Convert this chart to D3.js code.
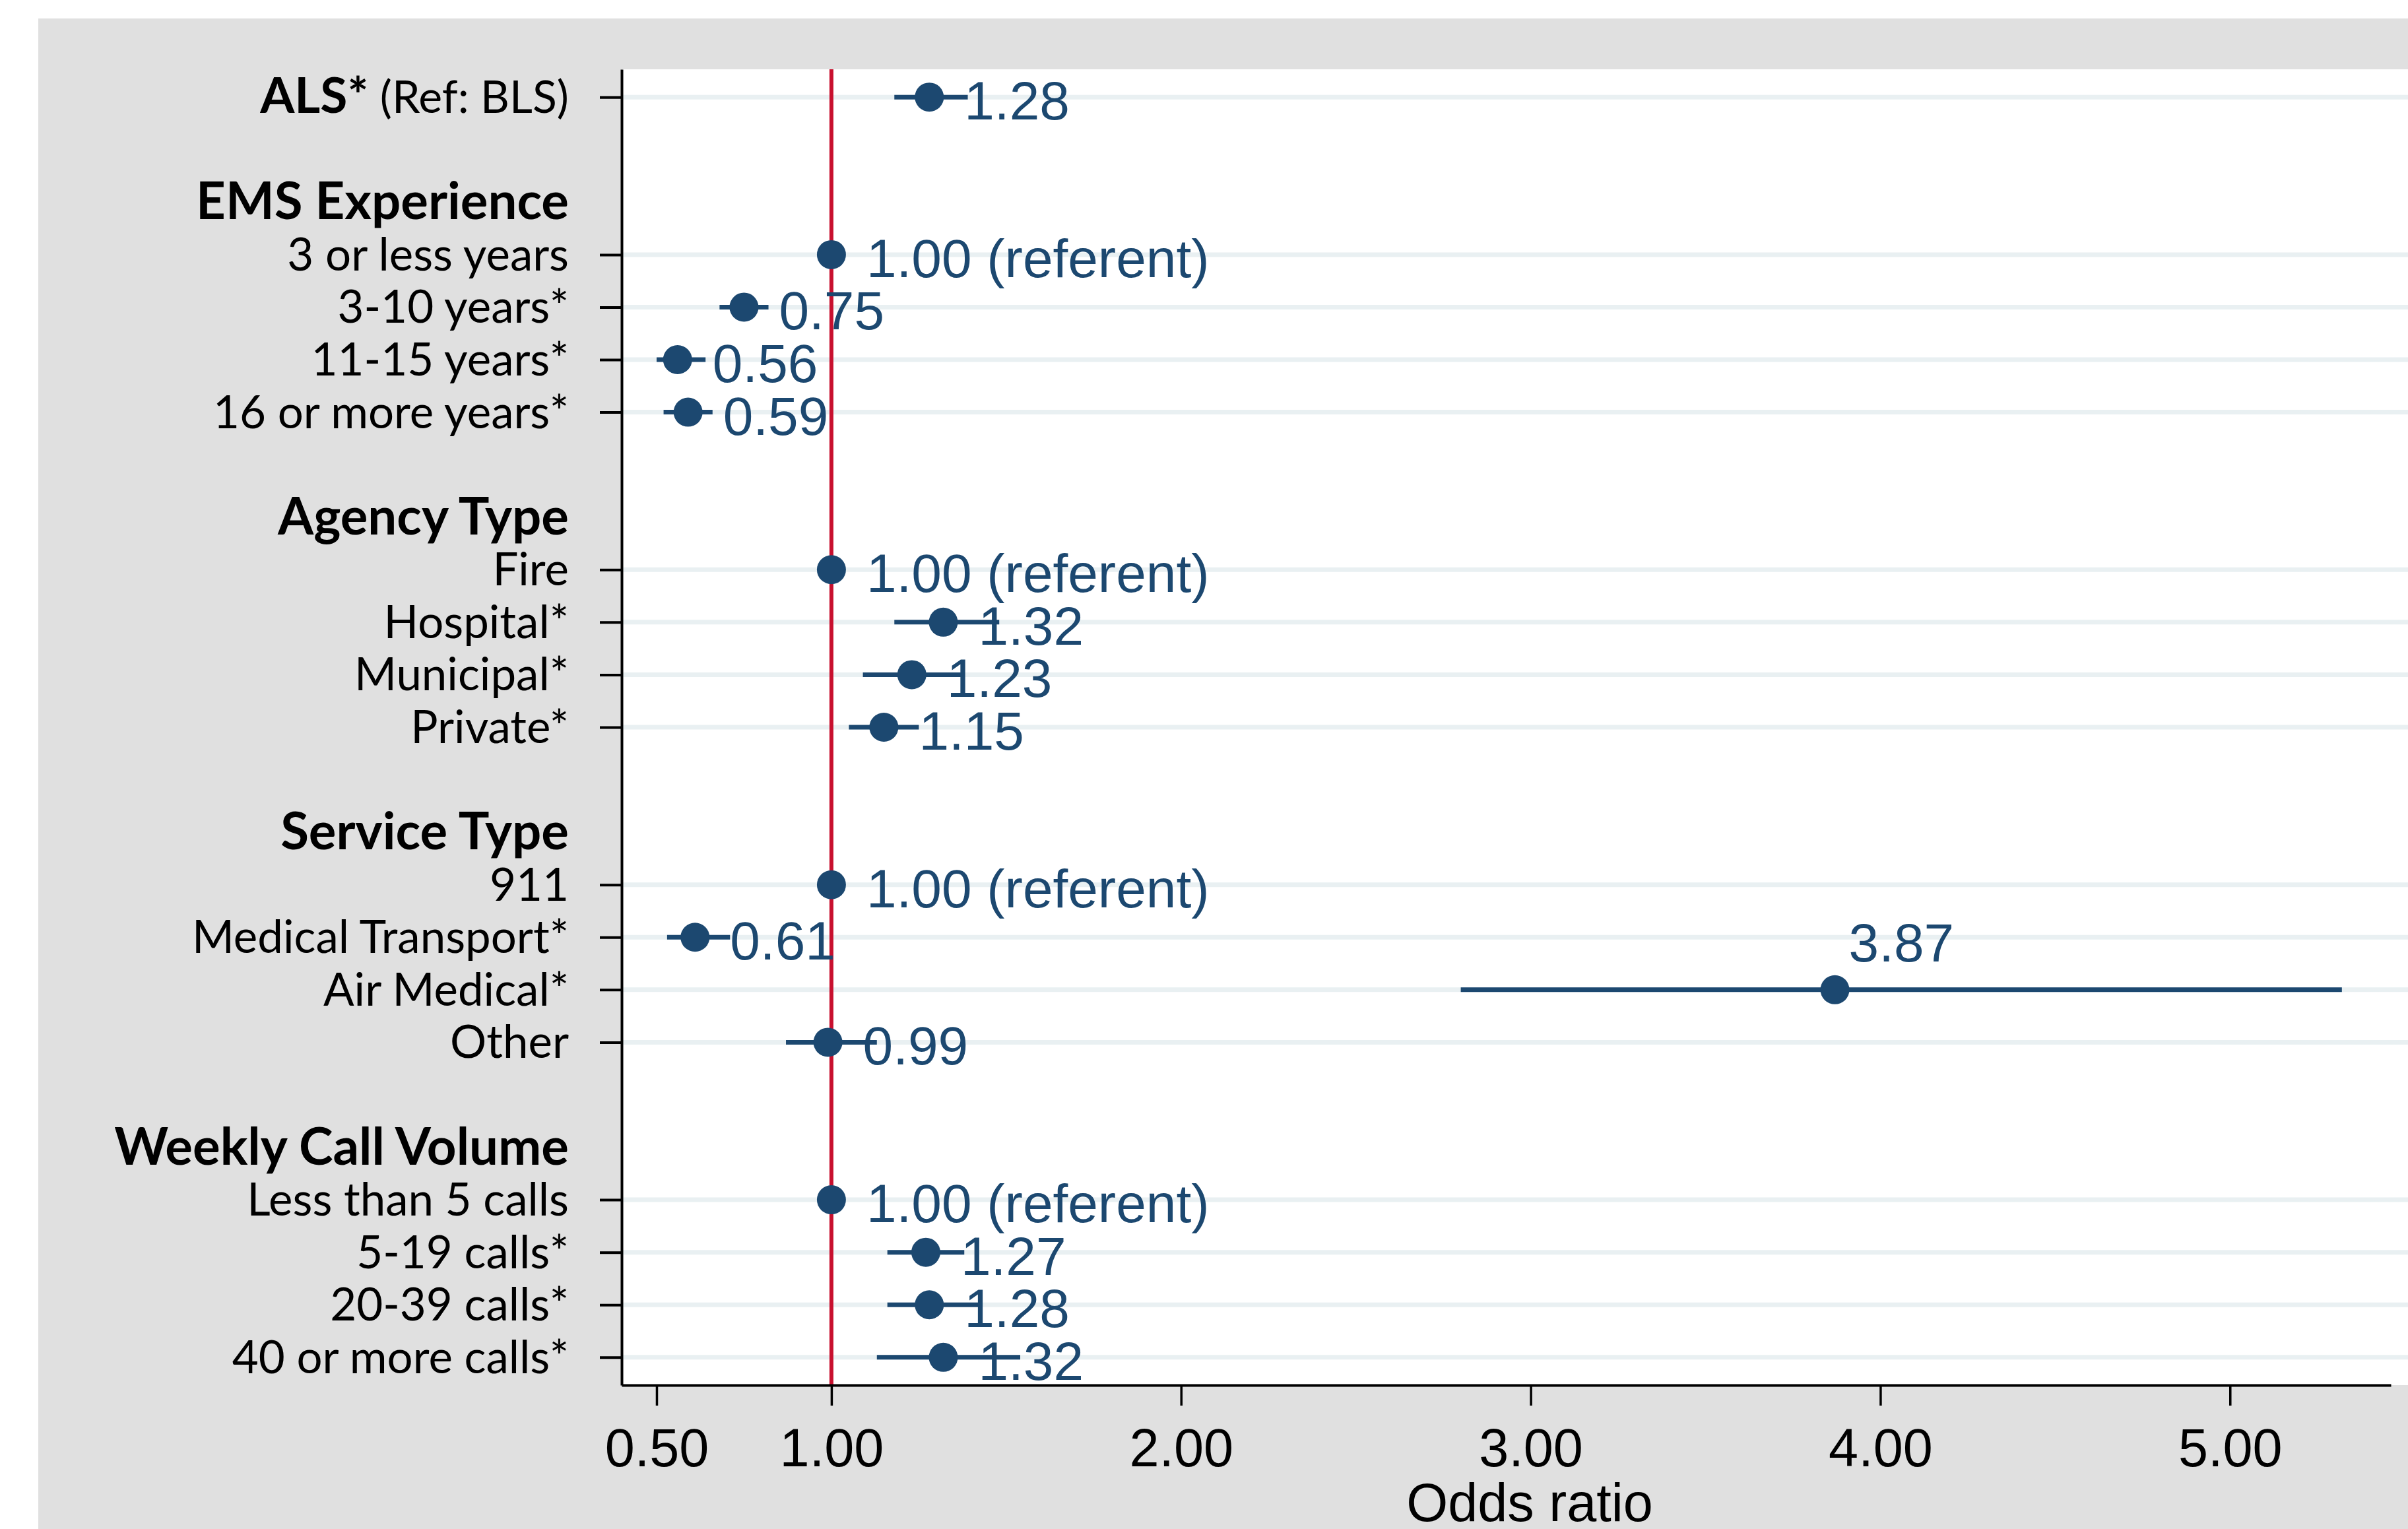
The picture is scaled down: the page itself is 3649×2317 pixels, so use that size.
<!DOCTYPE html>
<html>
<head>
<meta charset="utf-8">
<script src="https://cdn.jsdelivr.net/npm/d3@7"></script>
<style>
  body { margin: 0; background: #fff; }
  svg { display: block; }
</style>
</head>
<body>
<div id="chart-area"></div>
<script>
// data
const alsLabel = "ALS*"
const alsNote = " (Ref: BLS)"
const groupNames = ["EMS Experience", "Agency Type", "Service Type", "Weekly Call Volume"]
const groupItems = [
  ["3 or less years", "3-10 years*", "11-15 years*", "16 or more years*"],
  ["Fire", "Hospital*", "Municipal*", "Private*"],
  ["911", "Medical Transport*", "Air Medical*", "Other"],
  ["Less than 5 calls", "5-19 calls*", "20-39 calls*", "40 or more calls*"]
]
const oddsRatio = [1.28, 1.00, 0.75, 0.56, 0.59, 1.00, 1.32, 1.23, 1.15, 1.00, 0.61, 3.87, 0.99, 1.00, 1.27, 1.28, 1.32]
const ciLower   = [1.18, 1.00, 0.68, 0.50, 0.52, 1.00, 1.18, 1.09, 1.05, 1.00, 0.53, 2.80, 0.87, 1.00, 1.16, 1.16, 1.13]
const ciUpper   = [1.39, 1.00, 0.82, 0.64, 0.66, 1.00, 1.48, 1.37, 1.25, 1.00, 0.71, 5.32, 1.13, 1.00, 1.38, 1.42, 1.54]
const labelAbove = ["Air Medical*"]
const xTicks = [0.5, 1, 2, 3, 4, 5]
const xTitle = "Odds ratio"

const w = 3649
const h = 2317
const navy = "#1c4870"
const plotTop = 105, plotBottom = 2099, plotLeft = 942

const items = [alsLabel].concat(groupItems.flat())
const rowKeys = [alsLabel]
groupNames.forEach((g, i) => {
  rowKeys.push("gap" + i, g)
  groupItems[i].forEach(d => rowKeys.push(d))
})

const svg = d3.select("#chart-area")
  .append("svg")
  .attr("width", w)
  .attr("height", h)

svg.append("rect").attr("width", w).attr("height", h).attr("fill", "#fff")
svg.append("rect")
  .attr("x", 58).attr("y", 28)
  .attr("width", w - 58).attr("height", h - 28)
  .attr("fill", "#e0e0e0")
svg.append("rect")
  .attr("x", plotLeft).attr("y", plotTop)
  .attr("width", w - plotLeft).attr("height", plotBottom - plotTop)
  .attr("fill", "#fff")

const x = d3.scaleLinear()
  .domain([0.4, 5.46])
  .range([plotLeft, 3623])

const y = d3.scalePoint()
  .domain(rowKeys)
  .range([plotTop, plotBottom])
  .padding(0.53)

// gridlines on the estimate rows
svg.selectAll(".grid")
  .data(items)
  .enter()
  .append("line")
  .attr("class", "grid")
  .attr("x1", plotLeft)
  .attr("x2", w)
  .attr("y1", d => y(d))
  .attr("y2", d => y(d))
  .attr("stroke", "#e9f0f2")
  .attr("stroke-width", 7)

// reference line at OR = 1
svg.append("line")
  .attr("x1", x(1)).attr("x2", x(1))
  .attr("y1", plotTop).attr("y2", plotBottom)
  .attr("stroke", "#c8102e")
  .attr("stroke-width", 6)

// axes
const yAxis = d3.axisLeft(y)
  .tickValues(items)
  .tickSize(33)
  .tickSizeOuter(0)
  .tickFormat("")

svg.append("g")
  .attr("transform", `translate(${plotLeft},0)`)
  .call(yAxis)
  .call(g => g.selectAll("path, line").attr("stroke", "#000").attr("stroke-width", 4))

const xAxis = d3.axisBottom(x)
  .tickValues(xTicks)
  .tickSize(31)
  .tickSizeOuter(0)
  .tickPadding(34)
  .tickFormat(d3.format(".2f"))

svg.append("g")
  .attr("transform", `translate(0,${plotBottom})`)
  .call(xAxis)
  .call(g => g.select(".domain").attr("stroke", "#000").attr("stroke-width", 4))
  .call(g => g.selectAll(".tick line").attr("stroke", "#000").attr("stroke-width", 3.5))
  .call(g => g.selectAll(".tick text")
    .attr("fill", "#000")
    .style("font-family", "'Liberation Sans', Arial, sans-serif")
    .style("font-size", "81px"))

svg.append("text")
  .attr("x", 2318)
  .attr("y", 2305)
  .attr("text-anchor", "middle")
  .style("font-family", "'Liberation Sans', Arial, sans-serif")
  .style("font-size", "81px")
  .attr("fill", "#000")
  .text(xTitle)

// row labels
const labels = svg.append("g")
  .attr("text-anchor", "end")
  .style("font-family", "Lato, 'Open Sans', sans-serif")
  .attr("fill", "#000")

const als = labels.append("text")
  .attr("x", 862)
  .attr("y", y(alsLabel) + 24)
als.append("tspan").style("font-weight", "bold").style("font-size", "75px").text(alsLabel)
als.append("tspan").style("font-size", "68px").text(alsNote)

labels.selectAll(".header")
  .data(groupNames)
  .enter()
  .append("text")
  .attr("class", "header")
  .attr("x", 862)
  .attr("y", d => y(d) + 26)
  .style("font-weight", "bold")
  .style("font-size", "78px")
  .text(d => d)

labels.selectAll(".item")
  .data(groupItems.flat())
  .enter()
  .append("text")
  .attr("class", "item")
  .attr("x", 862)
  .attr("y", d => y(d) + 24)
  .style("font-size", "69px")
  .text(d => d)

// confidence intervals and point estimates
const est = items.map((d, i) => ({ name: d, or: oddsRatio[i], lo: ciLower[i], hi: ciUpper[i] }))

svg.selectAll(".ci")
  .data(est.filter(d => d.hi > d.lo))
  .enter()
  .append("line")
  .attr("class", "ci")
  .attr("x1", d => x(d.lo))
  .attr("x2", d => x(d.hi))
  .attr("y1", d => y(d.name))
  .attr("y2", d => y(d.name))
  .attr("stroke", navy)
  .attr("stroke-width", 7)

svg.selectAll(".dot")
  .data(est)
  .enter()
  .append("circle")
  .attr("class", "dot")
  .attr("cx", d => x(d.or))
  .attr("cy", d => y(d.name))
  .attr("r", 22)
  .attr("fill", navy)

svg.selectAll(".value")
  .data(est)
  .enter()
  .append("text")
  .attr("class", "value")
  .attr("x", d => labelAbove.includes(d.name) ? x(d.or) + 21 : x(d.or) + 53)
  .attr("y", d => labelAbove.includes(d.name) ? y(d.name) - 43 : y(d.name) + 34)
  .style("font-family", "'Liberation Sans', Arial, sans-serif")
  .style("font-size", "82px")
  .attr("fill", navy)
  .text(d => d3.format(".2f")(d.or) + (d.hi === d.lo ? " (referent)" : ""))
</script>
</body>
</html>
